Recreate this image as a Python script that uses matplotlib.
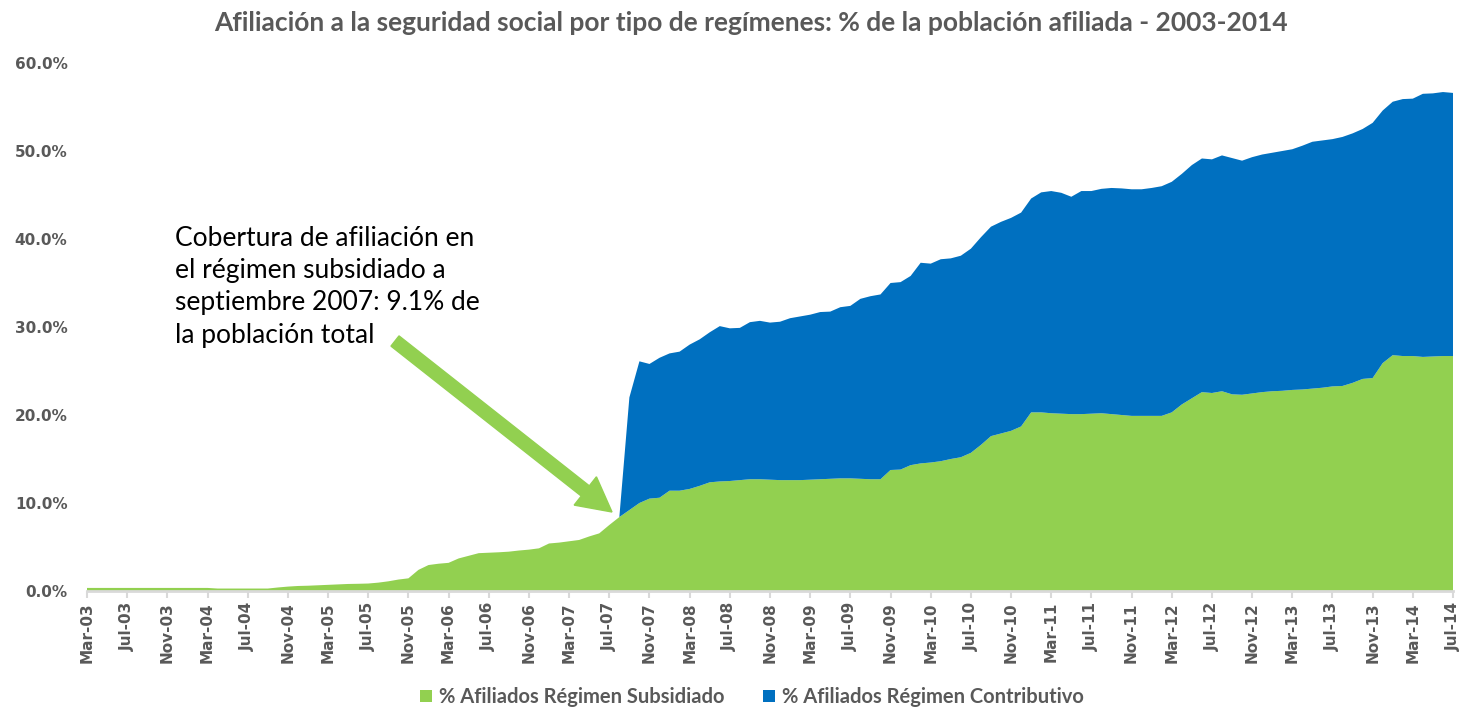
import matplotlib
matplotlib.use("Agg")
import matplotlib.pyplot as plt
import numpy as np
import pandas as pd
from matplotlib.patches import FancyArrow, Patch
from matplotlib.transforms import IdentityTransform

# ---------------- data ----------------
months = pd.date_range("2003-03-01", "2014-07-01", freq="MS")
month_labels = [d.strftime("%b-%y") for d in months]

subsidiado = [
    0.35, 0.35, 0.35, 0.35, 0.35, 0.35, 0.35, 0.35, 0.35, 0.35, 0.35, 0.35, 0.35,   # Mar-03..Mar-04
    0.28, 0.28, 0.28, 0.28, 0.28, 0.28,                                             # Apr-04..Sep-04
    0.40, 0.50, 0.57, 0.60, 0.65, 0.70, 0.75, 0.80, 0.82, 0.85, 0.95, 1.10,         # Oct-04..Sep-05
    1.30, 1.44, 2.40, 2.95, 3.10, 3.20, 3.70, 4.00, 4.30, 4.35, 4.40, 4.47,         # Oct-05..Sep-06
    4.60, 4.70, 4.85, 5.40, 5.50, 5.65, 5.80, 6.20, 6.55, 7.50, 8.40, 9.20,         # Oct-06..Sep-07
    10.0, 10.5, 10.6, 11.4, 11.4, 11.6, 11.95, 12.35, 12.45, 12.5, 12.6, 12.7,      # Oct-07..Sep-08
    12.7, 12.65, 12.6, 12.6, 12.6, 12.65, 12.7, 12.75, 12.8, 12.8, 12.75, 12.7,     # Oct-08..Sep-09
    12.7, 13.75, 13.8, 14.3, 14.5, 14.6, 14.75, 15.0, 15.2, 15.7, 16.6, 17.6,       # Oct-09..Sep-10
    17.9, 18.2, 18.7, 20.3, 20.3, 20.2, 20.15, 20.1, 20.1, 20.15, 20.2, 20.1,       # Oct-10..Sep-11
    20.0, 19.9, 19.9, 19.9, 19.9, 20.3, 21.2, 21.9, 22.6, 22.5, 22.7, 22.35,        # Oct-11..Sep-12
    22.3, 22.45, 22.6, 22.7, 22.75, 22.85, 22.9, 23.0, 23.1, 23.25, 23.3, 23.65,    # Oct-12..Sep-13
    24.1, 24.2, 25.9, 26.8, 26.7, 26.7, 26.6, 26.65, 26.7, 26.7,                    # Oct-13..Jul-14
]

contributivo = [0.0] * 53 + [
    0.0, 12.8,                                                                      # Aug-07..Sep-07
    16.1, 15.3, 15.9, 15.6, 15.8, 16.4, 16.65, 17.05, 17.65, 17.35, 17.3, 17.85,    # Oct-07..Sep-08
    18.0, 17.85, 18.0, 18.4, 18.6, 18.75, 19.0, 19.0, 19.45, 19.6, 20.45, 20.8,     # Oct-08..Sep-09
    21.0, 21.25, 21.3, 21.5, 22.8, 22.6, 22.95, 22.8, 22.9, 23.2, 23.6, 23.8,       # Oct-09..Sep-10
    24.05, 24.2, 24.3, 24.3, 25.0, 25.25, 25.1, 24.7, 25.35, 25.3, 25.5, 25.7,      # Oct-10..Sep-11
    25.75, 25.75, 25.75, 25.9, 26.1, 26.2, 26.2, 26.5, 26.55, 26.55, 26.8, 26.85,   # Oct-11..Sep-12
    26.6, 26.85, 27.0, 27.1, 27.25, 27.35, 27.7, 28.05, 28.1, 28.1, 28.3, 28.35,    # Oct-12..Sep-13
    28.4, 29.0, 28.7, 28.8, 29.2, 29.25, 29.9, 29.9, 30.0, 29.9,                    # Oct-13..Jul-14
]

series_names = ["% Afiliados Régimen Subsidiado", "% Afiliados Régimen Contributivo"]
series_colors = ["#92D050", "#0070C0"]
y_ticks = [0, 10, 20, 30, 40, 50, 60]

title = "Afiliación a la seguridad social por tipo de regímenes: % de la población afiliada - 2003-2014"
note = "Cobertura de afiliación en\nel régimen subsidiado a\nseptiembre 2007: 9.1% de\nla población total"

# ---------------- figure ----------------
W, H = 1462, 712
fig = plt.figure(figsize=(W / 100, H / 100), dpi=100)
ax = fig.add_axes([87 / W, (H - 591) / H, (1453 - 87) / W, (591 - 63) / H])

x = np.arange(len(months))
sub = np.array(subsidiado)
con = np.array(contributivo)
ax.stackplot(x, sub, con, colors=series_colors, linewidth=0)

ax.set_xlim(0, len(months) - 1)
ax.set_ylim(0, 60)

gray = "#595959"
ax.set_yticks(y_ticks)
ax.set_yticklabels([f"{v:.1f}%" for v in y_ticks], fontsize=11, fontweight="bold", color=gray)
ax.tick_params(axis="y", length=0, pad=14)

tick_idx = list(range(0, len(months), 4))
ax.set_xticks(tick_idx)
ax.set_xticklabels([month_labels[i] for i in tick_idx], rotation=90,
                   fontsize=11, fontweight="bold", color=gray)
ax.tick_params(axis="x", length=5, width=1.5, color="#D9D9D9", pad=3)

for s in ["top", "right", "left"]:
    ax.spines[s].set_visible(False)
ax.spines["bottom"].set_color("#D9D9D9")
ax.spines["bottom"].set_linewidth(2)

fig.text(751 / W, 1 - 23 / H, title, ha="center", va="center",
         fontsize=19, fontweight="bold", color=gray, family="Lato")

fig.text(175 / W, 1 - 226 / H, note, ha="left", va="top", fontsize=19,
         color="black", family="Lato", linespacing=1.36)

# arrow (pixel coordinates, origin bottom-left)
x0, y0 = 395, H - 341
x1, y1 = 612, H - 512
arr = FancyArrow(x0, y0, x1 - x0, y1 - y0, width=13, head_width=36, head_length=34,
                 length_includes_head=True, color="#92D050", transform=IdentityTransform(),
                 zorder=5)
fig.add_artist(arr)

handles = [Patch(facecolor=c, edgecolor="none") for c in series_colors]
leg = fig.legend(handles, series_names, loc="center", bbox_to_anchor=(752 / W, 1 - 697 / H),
                 ncol=2, frameon=False, handlelength=0.6, handleheight=0.6,
                 handletextpad=0.35, columnspacing=1.9,
                 prop={"family": "Lato", "weight": "bold", "size": 14.5})
for t in leg.get_texts():
    t.set_color(gray)

fig.savefig("out.png", dpi=100)
